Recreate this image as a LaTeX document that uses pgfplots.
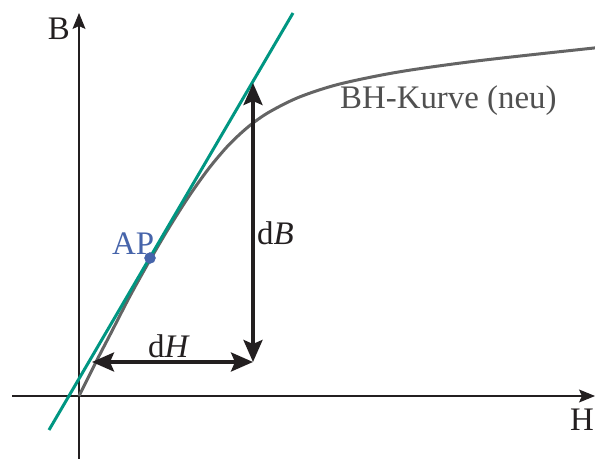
\documentclass[border=0pt]{standalone}
\usepackage{pgfplots}
\pgfplotsset{compat=1.18}
\usepackage{fontspec}
\setmainfont{Liberation Serif}
\usetikzlibrary{arrows.meta}
\definecolor{kitgreen}{RGB}{0,150,130}
\definecolor{kitblue}{RGB}{70,100,170}
\definecolor{curvegray}{RGB}{100,100,100}
\definecolor{txtgray}{RGB}{80,80,80}
\definecolor{nearblack}{RGB}{35,31,32}
\begin{document}
\begin{tikzpicture}
\begin{axis}[
  width=595bp, height=459bp, scale only axis,
  xmin=-79, xmax=516, ymin=-63, ymax=396,
  axis line style={draw=none}, ticks=none,
  clip=false,
]
% axes
\draw[line width=1.1bp, nearblack, -{Stealth[length=16bp,width=13bp,inset=3bp]}] (axis cs:-67,0) -- (axis cs:516,0);
\draw[line width=1.1bp, nearblack, -{Stealth[length=16bp,width=13bp,inset=3bp]}] (axis cs:0,-63) -- (axis cs:0,383);
% BH curve
\addplot[curvegray, line width=3bp, smooth, tension=0.5] coordinates {
 (0,0) (18,36) (33,65) (51,100) (71,136) (90,168.3) (110,199.8) (130,227.8)
 (150,251.3) (170,269.8) (190,283.8) (220,298.8) (260,311.8) (320,324.1)
 (400,335.3) (516,348.1)};
% tangent
\addplot[kitgreen, line width=3bp] coordinates {(-30,-34) (214,383)};
% operating point
\addplot[only marks, mark=*, mark size=5.5bp, kitblue, mark options={draw=kitblue, fill=kitblue}] coordinates {(71,138)};
% dH and dB arrows
\draw[nearblack, line width=3.5bp, {Stealth[length=22bp,width=19bp,inset=4bp]}-{Stealth[length=22bp,width=19bp,inset=4bp]}] (axis cs:13,34) -- (axis cs:174,34);
\draw[nearblack, line width=3.5bp, {Stealth[length=22bp,width=19bp,inset=4bp]}-{Stealth[length=22bp,width=19bp,inset=4bp]}] (axis cs:174,34) -- (axis cs:174,313);
% labels
\node[anchor=base east, inner sep=0pt, font=\fontsize{33}{36}\selectfont, nearblack] at (axis cs:-9,356) {B};
\node[anchor=base east, inner sep=0pt, font=\fontsize{33}{36}\selectfont, nearblack] at (axis cs:515,-34) {H};
\node[anchor=base west, inner sep=0pt, font=\fontsize{33}{36}\selectfont, kitblue] at (axis cs:33,141) {AP};
\node[anchor=base west, inner sep=0pt, font=\fontsize{33}{36}\selectfont, nearblack] at (axis cs:178,151) {d\textit{B}};
\node[anchor=base west, inner sep=0pt, font=\fontsize{33}{36}\selectfont, nearblack] at (axis cs:69,38) {d\textit{H}};
\node[anchor=base west, inner sep=0pt, font=\fontsize{33}{36}\selectfont, txtgray] at (axis cs:261,287) {BH-Kurve (neu)};
\end{axis}
\pgfresetboundingbox
\path (current axis.south west) rectangle (current axis.north east);
\end{tikzpicture}
\end{document}
